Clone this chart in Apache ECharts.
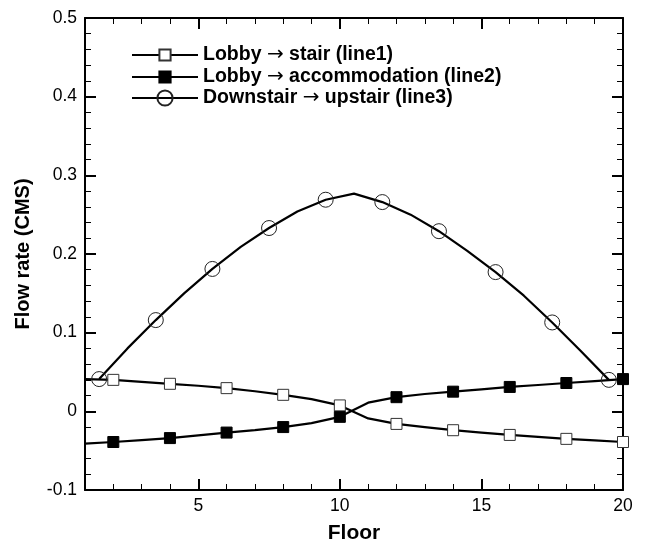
<!DOCTYPE html>
<html>
<head>
<meta charset="utf-8">
<script src="https://cdn.jsdelivr.net/npm/echarts@6/dist/echarts.min.js"></script>
<style>
html,body{margin:0;padding:0;background:#fff;}
#chart{width:645px;height:549px;}
</style>
</head>
<body>
<div id="chart"></div>
<script>
// ---- data ----
const floors = [1,2,3,4,5,6,7,8,9,10,11,12,13,14,15,16,17,18,19,20];
const line1 = [0.041,0.040,0.0375,0.035,0.0325,0.0295,0.0255,0.021,0.0155,0.0075,-0.009,-0.016,-0.020,-0.024,-0.027,-0.030,-0.0325,-0.035,-0.037,-0.039];
const line2 = [-0.041,-0.039,-0.0365,-0.034,-0.0305,-0.027,-0.024,-0.020,-0.015,-0.007,0.011,0.018,0.022,0.025,0.028,0.031,0.0335,0.036,0.0385,0.041];
const floors3 = [1.5,2.5,3.5,4.5,5.5,6.5,7.5,8.5,9.5,10.5,11.5,12.5,13.5,14.5,15.5,16.5,17.5,18.5,19.5];
const line3 = [0.041,0.080,0.116,0.150,0.181,0.209,0.233,0.254,0.269,0.2767,0.266,0.250,0.229,0.204,0.177,0.147,0.113,0.077,0.040];
const marked12 = [2,4,6,8,10,12,14,16,18,20];
const marked3 = [1.5,3.5,5.5,7.5,9.5,11.5,13.5,15.5,17.5,19.5];
const names = ['Lobby \u2192 stair (line1)','Lobby \u2192 accommodation (line2)','Downstair \u2192 upstair (line3)'];
const xMajor = [5,10,15,20];
const xMinor = [2,3,4,6,7,8,9,11,12,13,14,16,17,18,19];

const FONT = 'Liberation Sans, Arial, Helvetica, sans-serif';

function build(xs, ys, marks) {
  return xs.map((x, i) => {
    const item = { value: [x, ys[i]] };
    if (marks.indexOf(x) < 0) item.symbol = 'none';
    return item;
  });
}

const chart = echarts.init(document.getElementById('chart'), null, {renderer: 'canvas'});

const baseX = {
  type: 'value', min: 1, max: 20, gridIndex: 0,
  splitLine: {show: false}
};
const xAxes = [
  Object.assign({}, baseX, {
    position: 'bottom',
    axisLine: {show: true, onZero: false, lineStyle: {color: '#000', width: 2}},
    axisTick: {show: true, inside: true, length: 11, customValues: xMajor, lineStyle: {color: '#000', width: 2}},
    axisLabel: {show: true, customValues: xMajor, color: '#000', fontSize: 17.5, fontFamily: FONT, margin: 7},
    name: 'Floor', nameLocation: 'middle', nameGap: 33,
    nameTextStyle: {fontSize: 21, fontWeight: 'bold', fontFamily: FONT, color: '#000'}
  }),
  Object.assign({}, baseX, {
    position: 'bottom',
    axisLine: {show: false, onZero: false},
    axisTick: {show: true, inside: true, length: 6, customValues: xMinor, lineStyle: {color: '#000', width: 1}},
    axisLabel: {show: false}
  }),
  Object.assign({}, baseX, {
    position: 'top',
    axisLine: {show: true, onZero: false, lineStyle: {color: '#000', width: 2}},
    axisTick: {show: true, inside: true, length: 11, customValues: xMajor, lineStyle: {color: '#000', width: 2}},
    axisLabel: {show: false}
  }),
  Object.assign({}, baseX, {
    position: 'top',
    axisLine: {show: false, onZero: false},
    axisTick: {show: true, inside: true, length: 6, customValues: xMinor, lineStyle: {color: '#000', width: 1}},
    axisLabel: {show: false}
  })
];

const baseY = {
  type: 'value', min: -0.1, max: 0.5, interval: 0.1,
  splitLine: {show: false},
  axisLine: {show: true, onZero: false, lineStyle: {color: '#000', width: 2}},
  axisTick: {show: true, inside: true, length: 11, lineStyle: {color: '#000', width: 2}},
  minorTick: {show: true, splitNumber: 5, length: 6, lineStyle: {color: '#000', width: 1}},
  minorSplitLine: {show: false}
};
const yAxes = [
  Object.assign({}, baseY, {
    position: 'left',
    axisLabel: {show: true, color: '#000', fontSize: 17.5, fontFamily: FONT, margin: 8,
      formatter: v => String(Math.round(v * 10) / 10)},
    name: 'Flow rate (CMS)', nameLocation: 'middle', nameGap: 52,
    nameTextStyle: {fontSize: 20, fontWeight: 'bold', fontFamily: FONT, color: '#000'}
  }),
  Object.assign({}, baseY, {
    position: 'right',
    axisLabel: {show: false}
  })
];

const legendText = {
  fontSize: 19.5, fontWeight: 'bold', fontFamily: FONT, color: '#000',
  rich: {
    a: {fontSize: 20, fontWeight: 'normal', fontFamily: 'DejaVu Sans', color: '#000'}
  }
};
const legendFmt = n => n.replace('\u2192', '{a|\u2192}');
const rowY = [40, 62, 83];
const rowH = [14, 14, 19];
const legends = names.map((n, i) => ({
  orient: 'vertical', left: 126, top: rowY[i],
  itemWidth: 66, itemHeight: rowH[i], itemGap: 0,
  data: [n],
  formatter: legendFmt,
  lineStyle: {width: 2, color: '#000'},
  textStyle: legendText
}));

const option = {
  animation: false,
  backgroundColor: '#fff',
  grid: {left: 85, right: 22, top: 18, bottom: 51, containLabel: false},
  xAxis: xAxes,
  yAxis: yAxes,
  legend: legends,
  series: [
    {
      name: names[0], type: 'line', xAxisIndex: 0, yAxisIndex: 0,
      data: build(floors, line1, marked12),
      symbol: 'rect', symbolSize: 11, showSymbol: true, showAllSymbol: true,
      lineStyle: {color: '#000', width: 2.2},
      itemStyle: {color: '#fff', borderColor: '#333', borderWidth: 1},
      z: 3
    },
    {
      name: names[1], type: 'line', xAxisIndex: 0, yAxisIndex: 0,
      data: build(floors, line2, marked12),
      symbol: 'rect', symbolSize: 11, showSymbol: true, showAllSymbol: true,
      lineStyle: {color: '#000', width: 2.2},
      itemStyle: {color: '#000', borderColor: '#000', borderWidth: 1},
      z: 3
    },
    {
      name: names[2], type: 'line', xAxisIndex: 0, yAxisIndex: 0,
      data: build(floors3, line3, marked3),
      symbol: 'circle', symbolSize: 15, showSymbol: true, showAllSymbol: true,
      lineStyle: {color: '#000', width: 2.2},
      itemStyle: {color: 'rgba(255,255,255,0)', borderColor: '#222', borderWidth: 1},
      z: 3
    }
  ]
};
chart.setOption(option);
</script>
</body>
</html>
